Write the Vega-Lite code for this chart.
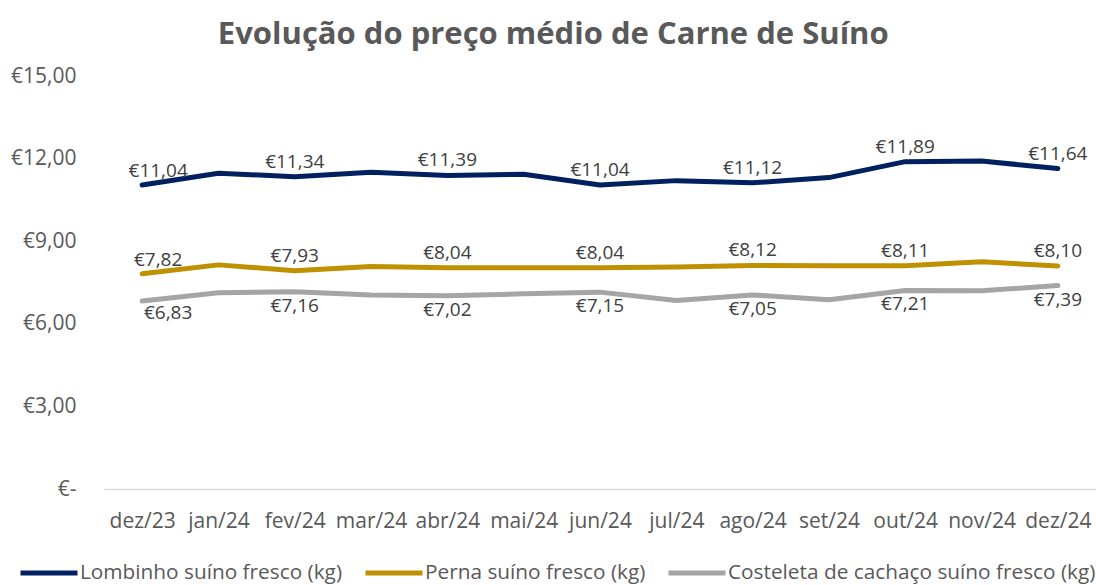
{
  "$schema": "https://vega.github.io/schema/vega-lite/v6.json",
  "autosize": {"type": "none"},
  "width": 992,
  "height": 413,
  "padding": {"left": 104, "top": 76, "right": 0, "bottom": 96},
  "background": "white",
  "title": {
    "text": "Evolução do preço médio de Carne de Suíno",
    "font": "Open Sans",
    "fontSize": 31,
    "fontWeight": "bold",
    "color": "#595959",
    "anchor": "middle",
    "frame": "bounds",
    "offset": 14
  },
  "config": {
    "view": {"stroke": null},
    "font": "Open Sans"
  },
  "data": {
    "values": [
      {"month": "dez/23", "series": "Lombinho suíno fresco (kg)", "value": 11.04},
      {"month": "jan/24", "series": "Lombinho suíno fresco (kg)", "value": 11.47},
      {"month": "fev/24", "series": "Lombinho suíno fresco (kg)", "value": 11.34},
      {"month": "mar/24", "series": "Lombinho suíno fresco (kg)", "value": 11.50},
      {"month": "abr/24", "series": "Lombinho suíno fresco (kg)", "value": 11.39},
      {"month": "mai/24", "series": "Lombinho suíno fresco (kg)", "value": 11.43},
      {"month": "jun/24", "series": "Lombinho suíno fresco (kg)", "value": 11.04},
      {"month": "jul/24", "series": "Lombinho suíno fresco (kg)", "value": 11.20},
      {"month": "ago/24", "series": "Lombinho suíno fresco (kg)", "value": 11.12},
      {"month": "set/24", "series": "Lombinho suíno fresco (kg)", "value": 11.31},
      {"month": "out/24", "series": "Lombinho suíno fresco (kg)", "value": 11.89},
      {"month": "nov/24", "series": "Lombinho suíno fresco (kg)", "value": 11.91},
      {"month": "dez/24", "series": "Lombinho suíno fresco (kg)", "value": 11.64},
      {"month": "dez/23", "series": "Perna suíno fresco (kg)", "value": 7.82},
      {"month": "jan/24", "series": "Perna suíno fresco (kg)", "value": 8.14},
      {"month": "fev/24", "series": "Perna suíno fresco (kg)", "value": 7.93},
      {"month": "mar/24", "series": "Perna suíno fresco (kg)", "value": 8.08},
      {"month": "abr/24", "series": "Perna suíno fresco (kg)", "value": 8.04},
      {"month": "mai/24", "series": "Perna suíno fresco (kg)", "value": 8.04},
      {"month": "jun/24", "series": "Perna suíno fresco (kg)", "value": 8.04},
      {"month": "jul/24", "series": "Perna suíno fresco (kg)", "value": 8.06},
      {"month": "ago/24", "series": "Perna suíno fresco (kg)", "value": 8.12},
      {"month": "set/24", "series": "Perna suíno fresco (kg)", "value": 8.11},
      {"month": "out/24", "series": "Perna suíno fresco (kg)", "value": 8.11},
      {"month": "nov/24", "series": "Perna suíno fresco (kg)", "value": 8.25},
      {"month": "dez/24", "series": "Perna suíno fresco (kg)", "value": 8.10},
      {"month": "dez/23", "series": "Costeleta de cachaço suíno fresco (kg)", "value": 6.83},
      {"month": "jan/24", "series": "Costeleta de cachaço suíno fresco (kg)", "value": 7.13},
      {"month": "fev/24", "series": "Costeleta de cachaço suíno fresco (kg)", "value": 7.16},
      {"month": "mar/24", "series": "Costeleta de cachaço suíno fresco (kg)", "value": 7.05},
      {"month": "abr/24", "series": "Costeleta de cachaço suíno fresco (kg)", "value": 7.02},
      {"month": "mai/24", "series": "Costeleta de cachaço suíno fresco (kg)", "value": 7.09},
      {"month": "jun/24", "series": "Costeleta de cachaço suíno fresco (kg)", "value": 7.15},
      {"month": "jul/24", "series": "Costeleta de cachaço suíno fresco (kg)", "value": 6.85},
      {"month": "ago/24", "series": "Costeleta de cachaço suíno fresco (kg)", "value": 7.05},
      {"month": "set/24", "series": "Costeleta de cachaço suíno fresco (kg)", "value": 6.87},
      {"month": "out/24", "series": "Costeleta de cachaço suíno fresco (kg)", "value": 7.21},
      {"month": "nov/24", "series": "Costeleta de cachaço suíno fresco (kg)", "value": 7.20},
      {"month": "dez/24", "series": "Costeleta de cachaço suíno fresco (kg)", "value": 7.39}
    ]
  },
  "encoding": {
    "x": {
      "field": "month",
      "type": "ordinal",
      "sort": null,
      "scale": {"type": "point", "padding": 0.5},
      "axis": {
        "title": null,
        "labelAngle": 0,
        "labelFontSize": 21,
        "labelColor": "#595959",
        "labelPadding": 21,
        "ticks": false,
        "domainColor": "#D9D9D9",
        "domainWidth": 1.5
      }
    },
    "y": {
      "field": "value",
      "type": "quantitative",
      "scale": {"domain": [0, 15], "nice": false},
      "axis": {
        "title": null,
        "values": [0, 3, 6, 9, 12, 15],
        "labelExpr": "datum.value == 0 ? '€-' : '€' + replace(format(datum.value, '.2f'), '.', ',')",
        "labelFontSize": 21,
        "labelColor": "#595959",
        "labelPadding": 28,
        "domain": false,
        "ticks": false,
        "grid": false
      }
    }
  },
  "layer": [
    {
      "mark": {"type": "line", "strokeWidth": 5, "strokeCap": "round", "strokeJoin": "round"},
      "encoding": {
        "color": {
          "field": "series",
          "type": "nominal",
          "sort": null,
          "scale": {
            "domain": ["Lombinho suíno fresco (kg)", "Perna suíno fresco (kg)", "Costeleta de cachaço suíno fresco (kg)"],
            "range": ["#002060", "#BF9000", "#A5A5A5"]
          },
          "legend": {
            "title": null,
            "orient": "none",
            "direction": "horizontal",
            "legendX": -86,
            "legendY": 466,
            "symbolType": "stroke",
            "symbolSize": 3249,
            "symbolStrokeWidth": 5,
            "labelFontSize": 20.8,
            "labelColor": "#595959",
            "labelOffset": 0,
            "columnPadding": 12,
            "labelLimit": 500
          }
        }
      }
    },
    {
      "transform": [
        {"filter": {"field": "month", "oneOf": ["fev/24", "abr/24", "jun/24", "ago/24", "out/24", "dez/24"]}},
        {"filter": {"field": "series", "oneOf": ["Lombinho suíno fresco (kg)", "Perna suíno fresco (kg)"]}},
        {"calculate": "'€' + replace(format(datum.value, '.2f'), '.', ',')", "as": "label"}
      ],
      "mark": {"type": "text", "dy": -15, "fontSize": 19, "color": "#404040"},
      "encoding": {"text": {"field": "label"}}
    },
    {
      "transform": [
        {"filter": {"field": "month", "equal": "dez/23"}},
        {"filter": {"field": "series", "oneOf": ["Lombinho suíno fresco (kg)", "Perna suíno fresco (kg)"]}},
        {"calculate": "'€' + replace(format(datum.value, '.2f'), '.', ',')", "as": "label"}
      ],
      "mark": {"type": "text", "dy": -14, "dx": 16, "fontSize": 19, "color": "#404040"},
      "encoding": {"text": {"field": "label"}}
    },
    {
      "transform": [
        {"filter": {"field": "month", "oneOf": ["fev/24", "abr/24", "jun/24", "ago/24", "out/24", "dez/24"]}},
        {"filter": {"field": "series", "equal": "Costeleta de cachaço suíno fresco (kg)"}},
        {"calculate": "'€' + replace(format(datum.value, '.2f'), '.', ',')", "as": "label"}
      ],
      "mark": {"type": "text", "dy": 14, "fontSize": 19, "color": "#404040"},
      "encoding": {"text": {"field": "label"}}
    },
    {
      "transform": [
        {"filter": {"field": "month", "equal": "dez/23"}},
        {"filter": {"field": "series", "equal": "Costeleta de cachaço suíno fresco (kg)"}},
        {"calculate": "'€' + replace(format(datum.value, '.2f'), '.', ',')", "as": "label"}
      ],
      "mark": {"type": "text", "dy": 12, "dx": 26, "fontSize": 19, "color": "#404040"},
      "encoding": {"text": {"field": "label"}}
    }
  ]
}
